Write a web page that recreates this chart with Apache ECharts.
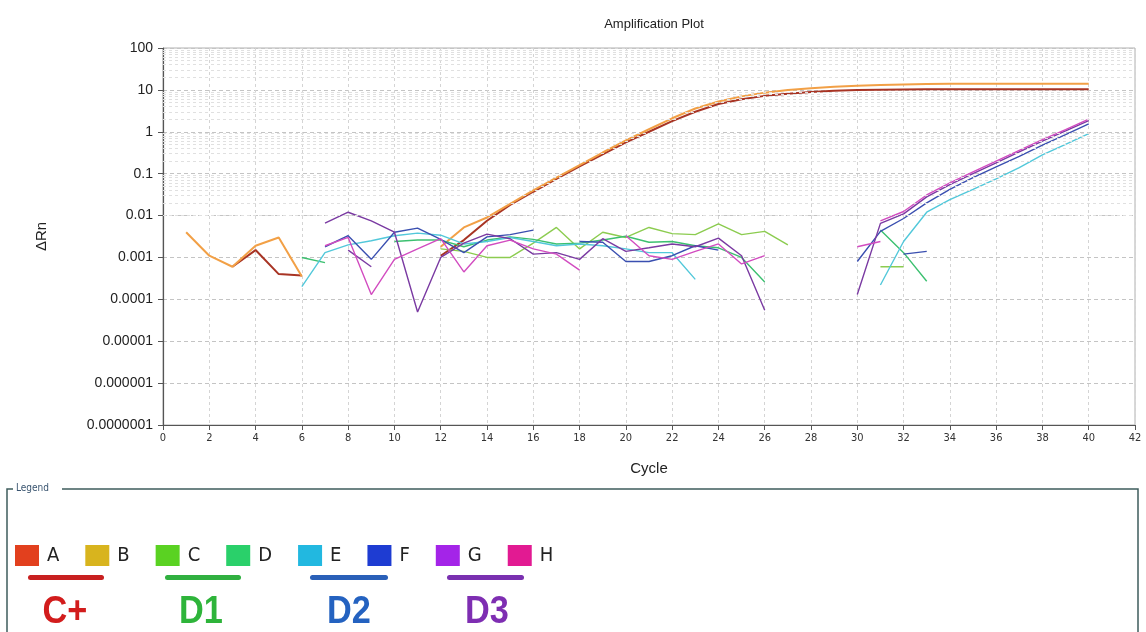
<!DOCTYPE html>
<html>
<head>
<meta charset="utf-8">
<script src="https://cdn.jsdelivr.net/npm/echarts@6/dist/echarts.min.js"></script>
<style>
html,body{margin:0;padding:0;background:#fff;}
#chart{width:1146px;height:632px;}
</style>
</head>
<body>
<div id="chart"></div>
<script>
const _ = null;
// cycles 1..40
const cycles = [1,2,3,4,5,6,7,8,9,10,11,12,13,14,15,16,17,18,19,20,21,22,23,24,25,26,27,28,29,30,31,32,33,34,35,36,37,38,39,40];
const xTicks = [0,2,4,6,8,10,12,14,16,18,20,22,24,26,28,30,32,34,36,38,40,42];
const yTickLabels = ['0.0000001','0.000001','0.00001','0.0001','0.001','0.01','0.1','1','10','100'];
const wells = ['A','B','C','D','E','F','G','H'];
const groupLabels = ['C+','D1','D2','D3'];
const legendColors = ['#e2401e','#d8b41e','#5ad222','#2ad06a','#22b8e0','#1e3cd2','#a424e8','#e21a92'];
const lineColors   = ['#a83424','#f2a046','#8ccc50','#3cc070','#52c8da','#3a4fb0','#7a3aa2','#d24cc0'];

//                  1     2      3       4       5      6        7  8  9  10 11 12      13      14      15     16     17     18    19    20    21   22   23   24   25   26   27   28   29   30   31    32    33    34    35    36    37    38    39    40
const wellA   = [_,    _,     0.0006, 0.0015, 0.0004, 0.00037, _, _, _, _, _, 0.0011, 0.0026, 0.0075, 0.018, 0.037, 0.075, 0.15, 0.29, 0.56, 1.0, 1.8, 3.0, 4.6, 6.0, 7.2, 8.1, 8.9, 9.5, 9.9, 10.1, 10.2, 10.3, 10.3, 10.4, 10.4, 10.4, 10.4, 10.4, 10.4];
const wellB   = [0.004,0.0011,0.0006, 0.0019, 0.003,  0.00035, _, _, _, _, _, 0.0018, 0.0052, 0.009,  0.019, 0.04,  0.08,  0.16, 0.32, 0.62, 1.15,2.1, 3.6, 5.3, 7.0, 8.6, 9.9, 11.0,11.9,12.6,13.1, 13.5, 13.8, 14.0, 14.1, 14.1, 14.1, 14.1, 14.1, 14.1];

const wellC   = [_,_,_,_,_,_,_,_,_,_,_, 0.0016,0.0014,0.001,0.001,0.0022,0.0052,0.0016,0.004,0.003,0.0052,0.0037,0.0035,0.0063,0.0035,0.0042,0.002, _,_,_,_,_,_,_,_,_,_,_,_,_];
const wellC2  = [_,_,_,_,_,_,_,_,_,_,_,_,_,_,_,_,_,_,_,_,_,_,_,_,_,_,_,_,_,_, 0.0006,0.0006, _,_,_,_,_,_,_,_];
const wellD   = [_,_,_,_,_,0.001,0.00075,_,_,_,_,_,_,_,_,_,_,_,_,_,_,_,_,_,_,_,_,_,_,_,_,_,_,_,_,_,_,_,_,_];
const wellD2  = [_,_,_,_,_,_,_,_,_,0.0024,0.0026,0.0026,0.0018,0.0026,0.0031,0.0027,0.0021,0.0022,0.0026,0.0032,0.0023,0.0024,0.0019,0.0017,0.001,0.00026,_,_,_,_,_,_,_,_,_,_,_,_,_,_];
const wellD3  = [_,_,_,_,_,_,_,_,_,_,_,_,_,_,_,_,_,_,_,_,_,_,_,_,_,_,_,_,_,_, 0.0045,0.0013,0.00027, _,_,_,_,_,_,_];
const wellE   = [_,_,_,_,_,0.0002,0.0013,0.002,0.0025,0.0033,0.0038,0.0034,0.0021,0.0024,0.003,0.0024,0.0019,0.0021,0.0019,0.0016,0.0013,0.0013,0.0003,_,_,_,_,_,_,_, 0.00022,0.0024,0.012,0.024,0.042,0.075,0.14,0.28,0.5,0.9];
const wellF   = [_,_,_,_,_,_,0.0018,0.0033,0.0009,0.004,0.005,0.0027,0.0013,0.0031,0.0035,0.0045,_,0.0024,0.0023,0.0008,0.0008,0.0011,0.0019,0.0015,_,_,_,_,_, 0.0008,0.0042,0.0085,0.02,0.042,0.08,0.145,0.26,0.48,0.85,1.55];
const wellF2  = [_,_,_,_,_,_,_,_,_,_,_,_,_,_,_,_,_,_,_,_,_,_,_,_,_,_,_,_,_,_,_, 0.0012,0.0014, _,_,_,_,_,_,_];
const wellG   = [_,_,_,_,_,_,0.0066,0.012,0.0075,0.004,0.00005,0.001,0.0022,0.0036,0.0028,0.0012,0.0013,0.0009,0.0028,0.0014,0.0017,0.0021,0.0018,0.0029,0.0011,0.000055,_,_,_, 0.00013,0.0065,0.011,0.028,0.055,0.1,0.18,0.33,0.6,1.05,1.85];
const wellG2  = [_,_,_,_,_,_,_,0.0015,0.0006,_,_,_,_,_,_,_,_,_,_,_,_,_,_,_,_,_,_,_,_,_,_,_,_,_,_,_,_,_,_,_];
const wellH   = [_,_,_,_,_,_,0.0019,0.003,0.00013,0.0009,0.0016,0.0028,0.00045,0.0019,0.0026,0.0016,0.0012,0.0005,_,0.0033,0.0011,0.0009,0.0014,0.0021,0.0007,0.0011,_,_,_,_, 0.0075,0.0125,0.031,0.06,0.11,0.2,0.36,0.65,1.12,2.0];
const wellH2  = [_,_,_,_,_,_,_,_,_,_,_,_,_,_,_,_,_,_,_,_,_,_,_,_,_,_,_,_,_, 0.0018,0.0024, _,_,_,_,_,_,_,_,_];

const traces = [
  ['A', wellA, 2], ['B', wellB, 2],
  ['C', wellC, 1.4], ['C', wellC2, 1.4],
  ['D', wellD, 1.4], ['D', wellD2, 1.4], ['D', wellD3, 1.4],
  ['E', wellE, 1.4],
  ['F', wellF, 1.4], ['F', wellF2, 1.4],
  ['G', wellG, 1.4], ['G', wellG2, 1.4],
  ['H', wellH, 1.4], ['H', wellH2, 1.4]
];

const minorGrid = [];
for (let e = -7; e < 2; e++) {
  for (let k = 2; k <= 9; k++) minorGrid.push({ yAxis: k * Math.pow(10, e) });
}

const series = traces.map(function (t) {
  const idx = wells.indexOf(t[0]);
  return {
    name: t[0],
    type: 'line',
    data: cycles.map(function (c, i) { return [c, t[1][i]]; }),
    connectNulls: false,
    showSymbol: false,
    symbol: 'none',
    smooth: false,
    lineStyle: { color: lineColors[idx], width: t[2] },
    itemStyle: { color: legendColors[idx] },
    z: 3
  };
});
series.unshift({
  name: '_grid',
  type: 'line',
  data: [],
  silent: true,
  z: 1,
  markLine: {
    silent: true,
    symbol: 'none',
    label: { show: false },
    lineStyle: { color: '#e0e0e0', type: [3, 3], width: 1 },
    emphasis: { disabled: true },
    data: minorGrid
  }
});

const NARROW = '"DejaVu Sans Condensed", "Liberation Sans", sans-serif';
const groupStyle = function (x, text, color) {
  return { type: 'text', silent: true, x: x, y: 612, scaleX: 0.88,
    style: { text: text, font: 'bold 39px "Liberation Sans", sans-serif', fill: color, align: 'center', verticalAlign: 'middle' } };
};

const chart = echarts.init(document.getElementById('chart'), null, { renderer: 'canvas' });
chart.setOption({
  animation: false,
  backgroundColor: '#ffffff',
  title: {
    text: 'Amplification Plot',
    left: 649, top: 13, textAlign: 'center',
    textStyle: { fontFamily: 'Liberation Sans', fontSize: 13, fontWeight: 'normal', color: '#222' }
  },
  grid: { left: 163, right: 11, top: 48, bottom: 207, show: true, borderColor: '#b0b0b0', borderWidth: 1, backgroundColor: 'transparent' },
  xAxis: {
    type: 'value', min: 0, max: 42, interval: 2,
    name: 'Cycle', nameLocation: 'middle', nameGap: 36,
    nameTextStyle: { fontFamily: 'Liberation Sans', fontSize: 15, color: '#222' },
    axisLine: { lineStyle: { color: '#555', width: 1.2 } },
    axisTick: { show: true, length: 5, lineStyle: { color: '#555' } },
    axisLabel: { fontFamily: NARROW, fontSize: 11, color: '#333', margin: 8,
      formatter: function (v) { return xTicks.indexOf(v) >= 0 ? String(v) : ''; } },
    splitLine: { show: true, lineStyle: { color: '#d4d4d4', type: [3, 3] } }
  },
  yAxis: {
    type: 'log', logBase: 10, min: 1e-7, max: 100, splitNumber: 9,
    name: 'ΔRn', nameLocation: 'middle', nameGap: 114, nameRotate: 90,
    nameTextStyle: { fontFamily: 'Liberation Sans', fontSize: 15, color: '#222' },
    axisLine: { show: true, lineStyle: { color: '#555', width: 1.2 } },
    axisTick: { show: true, length: 5, lineStyle: { color: '#555' } },
    axisLabel: { fontFamily: 'Liberation Sans', fontSize: 14, color: '#222', margin: 10,
      formatter: function (v) { const i = Math.round(Math.log10(v)) + 7; return yTickLabels[i] || ''; } },
    splitLine: { show: true, lineStyle: { color: '#c4c4c4', type: [4, 3] } }
  },
  legend: {
    data: wells.map(function (w, i) { return { name: w, icon: 'rect', itemStyle: { color: legendColors[i] } }; }),
    left: 10, top: 540, orient: 'horizontal',
    itemWidth: 24, itemHeight: 21, itemGap: 26,
    selectedMode: false,
    textStyle: { fontFamily: NARROW, fontSize: 20, color: '#222', padding: [0, 0, 0, 3] }
  },
  graphic: [
    { type: 'polyline', silent: true, shape: { points: [[7, 632], [7, 489], [13, 489]] }, style: { stroke: '#3e5c5c', lineWidth: 1.5, fill: null } },
    { type: 'polyline', silent: true, shape: { points: [[62, 489], [1138, 489], [1138, 632]] }, style: { stroke: '#3e5c5c', lineWidth: 1.5, fill: null } },
    { type: 'text', silent: true, left: 16, top: 483, style: { text: 'Legend', font: '10px ' + NARROW, fill: '#3a5570' } },
    { type: 'rect', silent: true, shape: { x: 28, y: 575, width: 76, height: 5, r: 2.5 }, style: { fill: '#c82020' } },
    { type: 'rect', silent: true, shape: { x: 165, y: 575, width: 76, height: 5, r: 2.5 }, style: { fill: '#30b040' } },
    { type: 'rect', silent: true, shape: { x: 310, y: 575, width: 78, height: 5, r: 2.5 }, style: { fill: '#2a60b8' } },
    { type: 'rect', silent: true, shape: { x: 447, y: 575, width: 77, height: 5, r: 2.5 }, style: { fill: '#7a30b0' } },
    groupStyle(65, groupLabels[0], '#d21c1c'),
    groupStyle(201, groupLabels[1], '#2eb43a'),
    groupStyle(349, groupLabels[2], '#2462c0'),
    groupStyle(487, groupLabels[3], '#7e2eb2')
  ],
  series: series
});
</script>
</body>
</html>
